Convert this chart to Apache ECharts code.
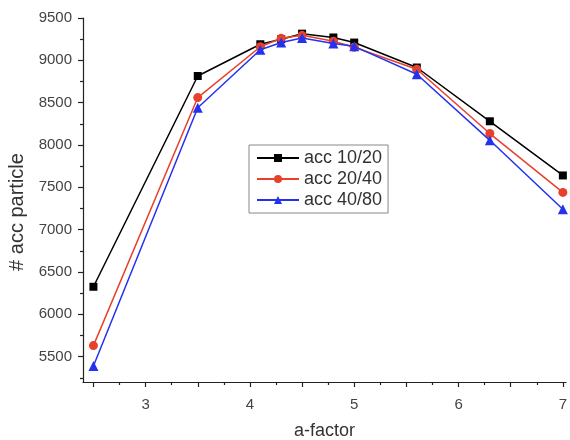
<!DOCTYPE html>
<html><head><meta charset="utf-8">
<script src="https://cdn.jsdelivr.net/npm/echarts@6/dist/echarts.min.js"></script>
<style>html,body{margin:0;padding:0;background:#fff}#c{width:570px;height:440px}</style>
</head><body><div id="c"></div>
<script>
const aFactor = [2.5, 3.5, 4.1, 4.3, 4.5, 4.8, 5.0, 5.6, 6.3, 7.0];
const acc10_20 = [6325, 8815, 9190, 9250, 9315, 9270, 9210, 8915, 8280, 7640];
const acc20_40 = [5630, 8560, 9160, 9260, 9295, 9225, 9155, 8895, 8135, 7440];
const acc40_80 = [5390, 8440, 9125, 9210, 9265, 9200, 9165, 8835, 8055, 7240];
const xLabels = [3, 4, 5, 6, 7];
const xMajorTicks = [2.5, 3, 3.5, 4, 4.5, 5, 5.5, 6, 6.5, 7];
const xMinorTicks = [2.75, 3.25, 3.75, 4.25, 4.75, 5.25, 5.75, 6.25, 6.75];
const yLabels = [5500, 6000, 6500, 7000, 7500, 8000, 8500, 9000, 9500];
const yMinorTicks = [5250, 5750, 6250, 6750, 7250, 7750, 8250, 8750, 9250];

const font = 'Liberation Sans, Arial, sans-serif';
const pair = (xs, ys) => xs.map((x, i) => [x, ys[i]]);
const chart = echarts.init(document.getElementById('c'));
const grid = {left: 83, top: 18, right: 4, bottom: 58, containLabel: false, outerBoundsMode: 'none'};
const axisLineStyle = {color: '#222', width: 1.2};
chart.setOption({
  animation: false,
  backgroundColor: '#fff',
  grid: grid,
  legend: {
    orient: 'vertical', left: 249, top: 145,
    padding: [4, 6, 4, 7], itemGap: 3, itemWidth: 42, itemHeight: 10,
    borderColor: '#888', borderWidth: 1, backgroundColor: '#fff',
    textStyle: {fontFamily: font, fontSize: 18, color: '#333', padding: [0, 0, 0, 0]},
    data: ['acc 10/20', 'acc 20/40', 'acc 40/80']
  },
  xAxis: [{
    type: 'value', min: 2.4, max: 7.03,
    name: 'a-factor', nameLocation: 'middle', nameGap: 40,
    nameTextStyle: {fontFamily: font, fontSize: 18, color: '#333'},
    axisLine: {show: true, lineStyle: axisLineStyle},
    axisTick: {show: true, length: 5, inside: false, customValues: xMajorTicks, lineStyle: axisLineStyle},
    axisLabel: {customValues: xLabels, fontFamily: font, fontSize: 15, color: '#444', margin: 15,
      formatter: v => String(v)},
    splitLine: {show: false}
  }, {
    type: 'value', min: 2.4, max: 7.03, position: 'bottom',
    axisLine: {show: false},
    axisTick: {show: true, length: 3, customValues: xMinorTicks, lineStyle: axisLineStyle},
    axisLabel: {show: false}, splitLine: {show: false}
  }],
  yAxis: [{
    type: 'value', min: 5200, max: 9500,
    name: '# acc particle', nameLocation: 'middle', nameGap: 48, nameRotate: 90,
    nameTextStyle: {fontFamily: font, fontSize: 20, color: '#333', padding: [0, 24, 0, 0]},
    axisLine: {show: true, lineStyle: axisLineStyle},
    axisTick: {show: true, length: 5, customValues: yLabels, lineStyle: axisLineStyle},
    axisLabel: {customValues: yLabels, fontFamily: font, fontSize: 15, color: '#444', margin: 11,
      formatter: v => String(v)},
    splitLine: {show: false}
  }, {
    type: 'value', min: 5200, max: 9500, position: 'left',
    axisLine: {show: false},
    axisTick: {show: true, length: 3, customValues: yMinorTicks, lineStyle: axisLineStyle},
    axisLabel: {show: false}, splitLine: {show: false}
  }],
  series: [
    {name: 'acc 10/20', type: 'line', data: pair(aFactor, acc10_20), symbol: 'rect', symbolSize: 8,
     color: '#000', lineStyle: {width: 1.5, color: '#000'}, itemStyle: {color: '#000'}, z: 3},
    {name: 'acc 20/40', type: 'line', data: pair(aFactor, acc20_40), symbol: 'circle', symbolSize: 9,
     color: '#e8412b', lineStyle: {width: 1.5, color: '#e8412b'}, itemStyle: {color: '#e8412b'}, z: 4},
    {name: 'acc 40/80', type: 'line', data: pair(aFactor, acc40_80), symbol: 'triangle', symbolSize: 10,
     color: '#2432f0', lineStyle: {width: 1.5, color: '#2432f0'}, itemStyle: {color: '#2432f0'}, z: 5}
  ]
});
</script></body></html>
